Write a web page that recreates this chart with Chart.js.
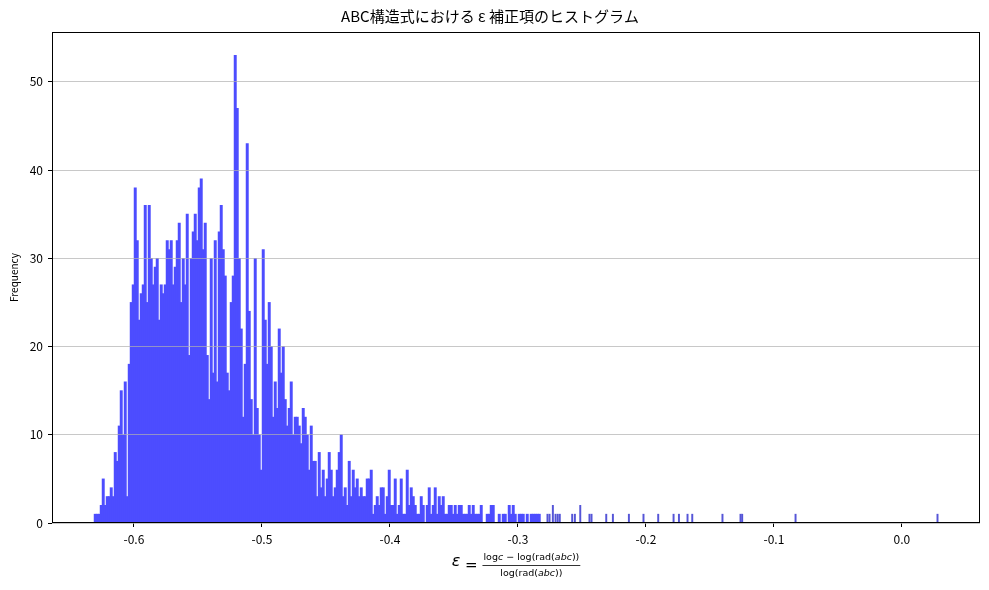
<!DOCTYPE html>
<html>
<head>
<meta charset="utf-8">
<script src="https://cdn.jsdelivr.net/npm/chart.js@4.4.1/dist/chart.umd.min.js"></script>
<style>
  html, body { margin: 0; padding: 0; background: #fff; }
  #wrap { width: 989px; height: 590px; }
</style>
</head>
<body>
<div id="wrap"><canvas id="hist"></canvas></div>
<script>
// Histogram bins
var binStart = -0.631;
var binWidth = 0.0015625;
var binCounts = [
  1, 1, 1, 2, 5, 2, 3, 3, 4, 3, 8, 7, 11, 15, 10, 16, 3, 18, 25, 27, 38, 32, 23, 26,
  27, 36, 25, 36, 30, 27, 29, 30, 23, 27, 26, 27, 32, 31, 32, 27, 29, 32, 34, 25, 30, 27, 35, 19,
  30, 33, 35, 32, 38, 39, 31, 34, 19, 14, 30, 17, 32, 16, 33, 36, 31, 28, 17, 15, 25, 28, 53, 47,
  30, 22, 12, 18, 43, 24, 14, 10, 30, 13, 10, 6, 31, 23, 18, 25, 20, 12, 16, 13, 22, 17, 20, 14,
  11, 13, 16, 10, 12, 12, 11, 9, 13, 12, 10, 6, 11, 7, 7, 3, 8, 4, 6, 3, 5, 8, 6, 3,
  4, 6, 8, 10, 3, 4, 2, 7, 3, 6, 4, 5, 3, 4, 3, 3, 5, 5, 6, 1, 2, 3, 2, 4,
  4, 1, 3, 6, 2, 2, 5, 1, 2, 5, 1, 1, 6, 2, 4, 3, 2, 1, 1, 3, 2, 0, 2, 4,
  1, 2, 4, 1, 3, 2, 3, 1, 1, 2, 2, 1, 2, 1, 2, 2, 1, 1, 1, 2, 1, 2, 1, 1,
  1, 2, 0, 0, 1, 1, 2, 2, 0, 0, 1, 0, 1, 1, 0, 2, 1, 2, 1, 0, 1, 1, 1, 0, 1, 0, 1, 1, 1, 1, 1, 0
];

// isolated bars in the long right tail
var tailEps = [-0.2769, -0.2753, -0.2727, -0.2706, -0.2689, -0.2673, -0.2576, -0.2555, -0.2513,
  -0.2441, -0.2425, -0.2310, -0.2258, -0.2133, -0.2019, -0.1904, -0.1784, -0.1742, -0.1675,
  -0.1638, -0.1402, -0.1261, -0.1248, -0.0831, 0.0278];
var tailCounts = [1, 1, 2, 1, 1, 1, 1, 1, 2, 1, 1, 1, 1, 1, 1, 1, 1, 1, 1, 1, 1, 1, 1, 1, 1];

var xTicks = [-0.6, -0.5, -0.4, -0.3, -0.2, -0.1, 0.0];
var yTicks = [0, 10, 20, 30, 40, 50];
var xMin = -0.664, xMax = 0.061;
var yMax = 55.65;

var titleText = "ABC構造式における ε 補正項のヒストグラム";
var yTitle = "Frequency";

var denseData = binCounts.map(function (c, i) {
    return { x: binStart + (i + 0.5) * binWidth, y: c };
});
var tailData = tailEps.map(function (e, i) {
    return { x: e, y: tailCounts[i] };
});

var jpFont = "'Noto Sans CJK JP', 'Noto Sans', sans-serif";

// axes frame + the math x label
var frameAndLabel = {
    id: "frameAndLabel",
    afterDraw: function (chart) {
        var ctx = chart.ctx;
        var a = chart.chartArea;
        ctx.save();
        ctx.strokeStyle = "#000";
        ctx.lineWidth = 1;
        ctx.strokeRect(Math.round(a.left) + 0.5, Math.round(a.top) + 0.5,
            Math.round(a.right - a.left) - 1, Math.round(a.bottom - a.top) - 1);

        var big = "15px 'DejaVu Sans'";
        var bigIt = "italic 16px 'DejaVu Sans'";
        var small = "9.5px 'DejaVu Sans'";
        var smallIt = "italic 9.5px 'DejaVu Sans'";
        var num = [["log", 0], ["c", 1], [" \u2212 log(rad(", 0], ["abc", 1], ["))", 0]];
        var den = [["log(rad(", 0], ["abc", 1], ["))", 0]];

        function runWidth(runs) {
            var w = 0;
            runs.forEach(function (r) {
                ctx.font = r[1] ? smallIt : small;
                w += ctx.measureText(r[0]).width;
            });
            return w;
        }
        function drawRuns(runs, x, y) {
            runs.forEach(function (r) {
                ctx.font = r[1] ? smallIt : small;
                ctx.fillText(r[0], x, y);
                x += ctx.measureText(r[0]).width;
            });
        }

        ctx.font = bigIt;
        var wEps = ctx.measureText("ε").width;
        ctx.font = big;
        var wEq = ctx.measureText(" = ").width;
        var wNum = runWidth(num), wDen = runWidth(den);
        var wFrac = Math.max(wNum, wDen) + 2;
        var x0 = (a.left + a.right) / 2 - (wEps + wEq + wFrac) / 2;
        var barY = 565.2;

        ctx.fillStyle = "#000";
        ctx.textBaseline = "alphabetic";
        ctx.textAlign = "left";
        ctx.font = bigIt;
        ctx.fillText("ε", x0, barY + 0.5);
        ctx.font = big;
        ctx.fillText(" = ", x0 + wEps, barY + 4.5);
        var fx = x0 + wEps + wEq;
        ctx.fillRect(fx, barY, wFrac, 0.8);
        drawRuns(num, fx + (wFrac - wNum) / 2, barY - 5);
        drawRuns(den, fx + (wFrac - wDen) / 2, barY + 10.5);
        ctx.restore();
    }
};

var ctx = document.getElementById("hist").getContext("2d");

new Chart(ctx, {
    type: "bar",
    data: {
        datasets: [{
            label: "bins",
            data: denseData,
            backgroundColor: "rgb(77, 77, 255)",
            borderWidth: 0,
            grouped: false,
            barThickness: 2.3
        }, {
            label: "tail",
            data: tailData,
            backgroundColor: "rgb(85, 85, 215)",
            borderWidth: 0,
            grouped: false,
            barThickness: 1.3
        }]
    },
    options: {
        responsive: true,
        maintainAspectRatio: false,
        animation: false,
        layout: { padding: { left: 0, right: 9, top: 0, bottom: 0 } },
        plugins: {
            legend: { display: false },
            tooltip: { enabled: false },
            title: {
                display: true,
                text: titleText,
                color: "#000",
                font: { family: jpFont, size: 15, weight: "normal" },
                padding: { top: 7, bottom: 7 }
            }
        },
        scales: {
            x: {
                type: "linear",
                min: xMin,
                max: xMax,
                offset: false,
                afterFit: function (scale) { scale.height = 67; },
                afterBuildTicks: function (scale) {
                    scale.ticks = xTicks.map(function (v) { return { value: v }; });
                },
                grid: {
                    offset: false,
                    drawOnChartArea: false,
                    drawTicks: true,
                    tickLength: 4,
                    tickColor: "#000"
                },
                border: { display: false },
                ticks: {
                    color: "#000",
                    padding: 5,
                    maxRotation: 0,
                    autoSkip: false,
                    font: { family: jpFont, size: 12 },
                    callback: function (v) { return Number(v).toFixed(1); }
                }
            },
            y: {
                min: 0,
                max: yMax,
                afterFit: function (scale) { scale.width = 52; },
                afterBuildTicks: function (scale) {
                    scale.ticks = yTicks.map(function (v) { return { value: v }; });
                },
                grid: {
                    z: 1,
                    color: "rgba(176, 176, 176, 0.7)",
                    lineWidth: 1,
                    drawTicks: true,
                    tickLength: 4,
                    tickColor: "#000"
                },
                border: { display: false },
                ticks: {
                    color: "#000",
                    padding: 5,
                    font: { family: jpFont, size: 12 }
                },
                title: {
                    display: true,
                    text: yTitle,
                    color: "#000",
                    font: { family: jpFont, size: 10 },
                    padding: { top: 8, bottom: 0 }
                }
            }
        }
    },
    plugins: [frameAndLabel]
});
</script>
</body>
</html>
